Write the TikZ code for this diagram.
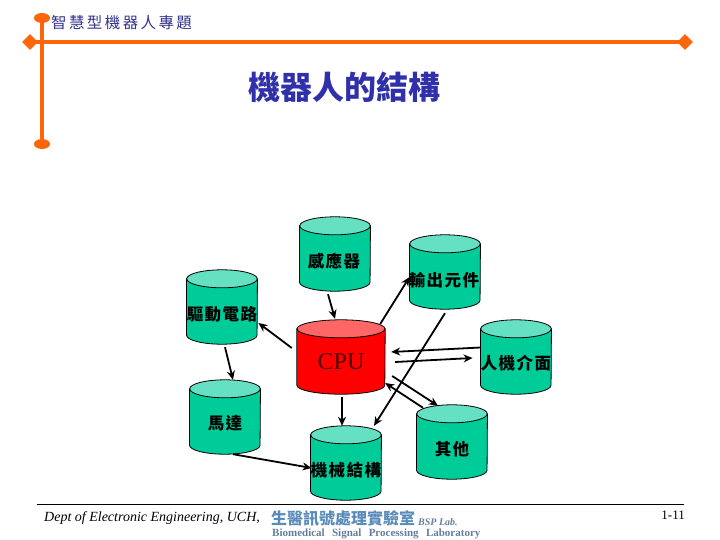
\documentclass[tikz,border=0pt]{standalone}
\usepackage{fontspec}
\setmainfont{Liberation Serif}
\newfontfamily\cjk{Noto Sans CJK TC}
\usetikzlibrary{shapes.geometric,calc,arrows.meta}
\definecolor{barorange}{RGB}{255,102,10}
\definecolor{tealbody}{RGB}{0,204,153}
\definecolor{tealtop}{RGB}{102,224,194}
\definecolor{cpubody}{RGB}{255,0,0}
\definecolor{cputop}{RGB}{255,102,102}
\definecolor{headblue}{RGB}{50,50,140}
\definecolor{titleblue}{RGB}{48,48,170}
\definecolor{logoblue}{RGB}{90,140,185}
\definecolor{logogray}{RGB}{100,125,155}
\tikzset{
  drum/.style={rectangle, draw=none, minimum width=70.5pt, minimum height=74pt, inner sep=0pt},
  cpudrum/.style={drum, minimum width=88pt},
  drumline/.style={draw=black, line width=0.8pt},
  drumtext/.style={font=\cjk\bfseries\fontsize{16.5}{17}\selectfont, text=black, inner sep=0pt},
  link/.style={draw=black, line width=1.8pt, -{Stealth[length=9pt,width=8pt]}},
  bar/.style={draw=barorange, line width=3.5pt},
  capdot/.style={ellipse, fill=barorange, minimum width=16pt, minimum height=10pt, inner sep=0pt},
  capdiamond/.style={diamond, fill=barorange, minimum width=16pt, minimum height=16pt, inner sep=0pt}
}
% name, half width, body colour, top colour: draws a drum over the named node
\newcommand{\drumdraw}[4]{%
  \path[fill=#3, drumline]
    ($(#1.north west)+(0,9)$) -- ($(#1.south west)+(0,-9)$)
    arc[start angle=180,end angle=360,x radius=#2pt,y radius=9pt]
    -- ($(#1.north east)+(0,9)$) -- cycle;
  \path[fill=#4, drumline]
    ($(#1.north)+(0,9)$) ellipse[x radius=#2pt, y radius=9pt];
}
\newcommand{\gp}{\kern1.5pt}
\begin{document}
\begin{tikzpicture}[x=1pt,y=-1pt]
\useasboundingbox (0,0) rectangle (720,540);
% frame
\node[capdot] (topcap) at (42,18) {};
\node[capdot] (botcap) at (42,144) {};
\node[capdiamond] (leftd) at (30,42) {};
\node[capdiamond] (rightd) at (685,42) {};
\draw[bar] (topcap.center) -- (botcap.center);
\draw[bar] (leftd.center) -- (rightd.center);
\node[anchor=west, inner sep=0pt, text=headblue, font=\cjk\fontsize{15.5}{16}\selectfont] (head) at (51,23) {智\kern2.4pt 慧\kern2.4pt 型\kern2.4pt 機\kern2.4pt 器\kern2.4pt 人\kern2.4pt 專\kern2.4pt 題};
% title
\node[font=\cjk\bfseries\fontsize{32}{33}\selectfont, text=titleblue, inner sep=0pt] (title) at (344.5,87.5) {機器人的結構};
% drums
\node[drum] (sens) at (335,254) {};
\node[drum] (out) at (445,272) {};
\node[drum] (drv) at (222,307) {};
\node[cpudrum] (cpu) at (341,357) {};
\node[drum] (hmi) at (516,357) {};
\node[drum] (mot) at (225,417) {};
\node[drum] (mech) at (346,463) {};
\node[drum] (oth) at (452,442) {};
\drumdraw{sens}{35.25}{tealbody}{tealtop}
\drumdraw{out}{35.25}{tealbody}{tealtop}
\drumdraw{drv}{35.25}{tealbody}{tealtop}
\drumdraw{cpu}{44}{cpubody}{cputop}
\drumdraw{hmi}{35.25}{tealbody}{tealtop}
\drumdraw{mot}{35.25}{tealbody}{tealtop}
\drumdraw{mech}{35.25}{tealbody}{tealtop}
\drumdraw{oth}{35.25}{tealbody}{tealtop}
% drum texts
\node[drumtext] (t1) at (334,261) {感\gp 應\gp 器};
\node[drumtext] (t2) at (444,280) {輸\gp 出\gp 元\gp 件};
\node[drumtext] (t3) at (222,314) {驅\gp 動\gp 電\gp 路};
\node[font=\fontsize{24}{25}\selectfont, text=black!70!red, inner sep=0pt] (t4) at (341,362) {CPU};
\node[drumtext] (t5) at (516,363) {人\gp 機\gp 介\gp 面};
\node[drumtext] (t6) at (225,423) {馬\gp 達};
\node[drumtext] (t7) at (346,470) {機\gp 械\gp 結\gp 構};
\node[drumtext] (t8) at (452,449) {其\gp 他};
% connectors
\draw[link] ($(sens.south)+(-7,3)$) -- ($(cpu.north)+(-6,-1)$);
\draw[link] ($(cpu.west)+(-5,-9)$) -- ($(drv.east)+(1,16)$);
\draw[link] ($(drv.south)+(3,3)$) -- ($(mot.north)+(8,0)$);
\draw[link] ($(mot.south)+(8,0)$) -- ($(mech.west)+(1,5)$);
\draw[link] ($(cpu.south)+(1,3)$) -- ($(mech.north)+(-4,0)$);
\draw[link] ($(cpu.east)+(-5,-33)$) -- ($(out.west)+(0,5)$);
\draw[link] ($(out.south)+(0,4)$) -- ($(mech.north)+(28,0)$);
\draw[link] ($(hmi.west)+(0,-9.5)$) -- ($(cpu.east)+(6,-5)$);
\draw[link] ($(cpu.east)+(10,5)$) -- ($(hmi.west)+(-8,1)$);
\draw[link] ($(cpu.east)+(7,19)$) -- ($(oth.north)+(-14,1)$);
\draw[link] ($(oth.north)+(-29,3)$) -- ($(cpu.east)+(0,26)$);
% footer
\node[inner sep=0pt] (rulestart) at (36,504) {};
\node[inner sep=0pt] (ruleend) at (685,504) {};
\draw[black, line width=0.7pt] (rulestart) -- (ruleend);
\node[anchor=west, inner sep=0pt, font=\itshape\fontsize{14}{15}\selectfont] (foot) at (44,518) {Dept of Electronic Engineering, UCH,};
\node[anchor=west, inner sep=0pt, text=logoblue, font=\cjk\bfseries\fontsize{16}{17}\selectfont] (logo) at (271,518) {生醫訊號處理實驗室};
\node[anchor=west, inner sep=0pt, text=logogray, font=\bfseries\itshape\fontsize{10}{11}\selectfont] (lab) at (418,522) {BSP Lab.};
\node[anchor=west, inner sep=0pt, text=logogray, font=\bfseries\fontsize{11}{12}\selectfont] (bio) at (272,534) {Biomedical \ \,Signal \ \,Processing \ \,Laboratory};
\node[anchor=east, inner sep=0pt, font=\fontsize{13}{14}\selectfont] (page) at (685,515) {1-11};
\end{tikzpicture}
\end{document}
